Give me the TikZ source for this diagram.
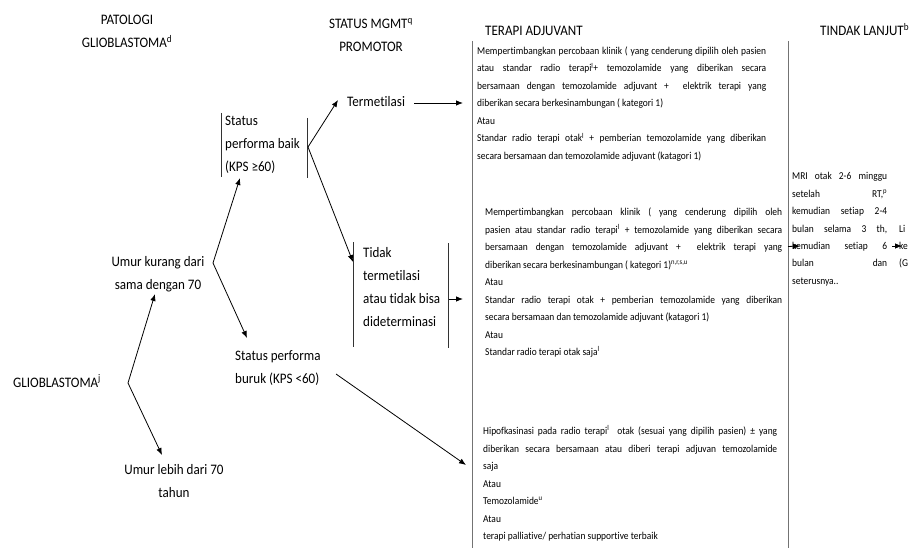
\documentclass[tikz,border=0pt]{standalone}
\usepackage{fontspec}
\setmainfont{Carlito}[FakeStretch=0.9, RawFeature={-liga;-calt;-clig}]
\usepackage{tikz}
\usetikzlibrary{arrows.meta,calc}

\newcommand{\lblfont}{\fontsize{14.5}{23}\selectfont}
\newcommand{\thfont}{\fontsize{10.5}{17.5}\selectfont\tolerance=10000\hbadness=10000}

\tikzset{
  txt/.style={inner sep=0pt, anchor=base west},
  ctxt/.style={inner sep=0pt, anchor=base},
  arr/.style={-{Latex[length=7pt,width=5.5pt]}, line width=0.8pt},
  bracket/.style={line width=0.6pt, black!80},
  colline/.style={line width=0.8pt, black!55},
}

\begin{document}
\begin{tikzpicture}[x=1pt, y=-1pt]
    \useasboundingbox (0,0) rectangle (915,548);

    % headers
    \node[ctxt] (hPat) at (127,25) {\lblfont\parbox[t]{130pt}{\centering PATOLOGI\\ GLIOBLASTOMA\textsuperscript{d}}};
    \node[ctxt] (hMgmt) at (371,29) {\lblfont\parbox[t]{120pt}{\centering STATUS MGMT\textsuperscript{q}\\ PROMOTOR}};
    \node[txt] (hTerapi) at (485,36) {\lblfont TERAPI ADJUVANT};
    \node[txt] (hTindak) at (820,36) {\lblfont TINDAK LANJUT\textsuperscript{b}};

    % decision labels
    \node[txt] (glio) at (13,387) {\lblfont GLIOBLASTOMA\textsuperscript{j}};
    \node[ctxt] (umur) at (158,266) {\lblfont\parbox[t]{110pt}{\centering Umur kurang dari\\ sama dengan 70}};
    \node[ctxt] (lebih) at (174,474) {\lblfont\parbox[t]{120pt}{\centering Umur lebih dari 70\\ tahun}};
    \node[txt] (baik) at (225,126) {\lblfont\parbox[t]{85pt}{Status\\ performa baik\\ (KPS ≥60)}};
    \node[txt] (buruk) at (235,360) {\lblfont\parbox[t]{100pt}{Status performa\\ buruk (KPS <60)}};
    \node[txt] (termet) at (347,107) {\lblfont Termetilasi};
    \node[txt] (tidak) at (363,257) {\lblfont\parbox[t]{85pt}{Tidak\\ termetilasi\\ atau tidak bisa\\ dideterminasi}};

    % brackets round the status labels
    \draw[bracket] ($(baik.base west)+(-4,-13)$) -- ($(baik.base west)+(-4,51)$);
    \draw[bracket] ($(baik.base west)+(82,-8)$) -- ($(baik.base west)+(82,52)$);
    \draw[bracket] ($(tidak.base west)+(-10,-15)$) -- ($(tidak.base west)+(-10,90)$);
    \draw[bracket] ($(tidak.base west)+(85,-14)$) -- ($(tidak.base west)+(85,91)$);

    % therapy column
    \draw[colline] (472,41) -- (472,548);
    \draw[colline] (788,41) -- (788,548);

    \node[txt] (ther1) at (477,54.5) {\parbox[t]{289pt}{\thfont
      Mempertimbangkan percobaan klinik ( yang cenderung dipilih oleh pasien\linebreak
      atau standar radio terapi\textsuperscript{l}+ temozolamide yang diberikan secara\linebreak
      bersamaan dengan temozolamide adjuvant + \ elektrik terapi yang\linebreak
      diberikan secara berkesinambungan ( kategori 1)\\
      Atau\\
      Standar radio terapi otak\textsuperscript{l} + pemberian temozolamide yang diberikan\linebreak
      secara bersamaan dan temozolamide adjuvant (katagori 1)}};

    \node[txt] (ther2) at (485,215.5) {\parbox[t]{297pt}{\thfont
      Mempertimbangkan percobaan klinik ( yang cenderung dipilih oleh\linebreak
      pasien atau standar radio terapi\textsuperscript{l} + temozolamide yang diberikan secara\linebreak
      bersamaan dengan temozolamide adjuvant + \ elektrik terapi yang\linebreak
      diberikan secara berkesinambungan ( kategori 1)\textsuperscript{n,r,s,u}\\
      Atau\\
      Standar radio terapi otak + pemberian temozolamide yang diberikan\linebreak
      secara bersamaan dan temozolamide adjuvant (katagori 1)\\
      Atau\\
      Standar radio terapi otak saja\textsuperscript{l}}};

    \node[txt] (ther3) at (483,434.5) {\parbox[t]{294pt}{\thfont
      Hipofkasinasi pada radio terapi\textsuperscript{l} \ otak (sesuai yang dipilih pasien) ± yang\linebreak
      diberikan secara bersamaan atau diberi terapi adjuvan temozolamide\linebreak
      saja\\
      Atau\\
      Temozolamide\textsuperscript{u}\\
      Atau\\
      terapi palliative/ perhatian supportive terbaik}};

    % follow-up column
    \node[txt] (mri) at (792,179.5) {\parbox[t]{95pt}{\thfont
      MRI otak 2-6 minggu\linebreak
      setelah RT,\textsuperscript{p}\linebreak
      kemudian setiap 2-4\linebreak
      bulan selama 3 th,\linebreak
      kemudian setiap 6\linebreak
      bulan dan\linebreak
      seterusnya..}};
    \node[txt] (nxt) at (899,232) {\parbox[t]{30pt}{\thfont Li\\ ke\\ (G}};

    % forks
    \coordinate (fkGlio) at ($(glio.base west)+(115,-4)$);
    \coordinate (fkUmur) at ($(umur.base)+(55,-3)$);
    \coordinate (fkBaik) at ($(baik.base west)+(83,21)$);

    % arrows
    \draw[arr] (fkGlio) -- ($(umur.base)+(-3,28)$);
    \draw[arr] (fkGlio) -- ($(lebih.base)+(-12,-19)$);
    \draw[arr] (fkUmur) -- ($(baik.base west)+(15,52)$);
    \draw[arr] (fkUmur) -- ($(buruk.base west)+(12,-22)$);
    \draw[arr] (fkBaik) -- ($(termet.base west)+(-9,-7)$);
    \draw[arr] (fkBaik) -- ($(tidak.base west)+(-10,5)$);
    \draw[arr] ($(termet.base east)+(9,-4)$) -- ($(ther1.base west)+(-14,48.5)$);
    \draw[arr] ($(tidak.base west)+(86,42)$) -- ($(ther2.base west)+(-22,83.5)$);
    \draw[arr] ($(buruk.base west)+(101,14)$) -- ($(ther3.base west)+(-17,30.5)$);
    \draw[arr] ($(ther2.base west)+(303,31)$) -- ($(mri.base west)+(8,66.5)$);
    \draw[arr] ($(mri.base west)+(100,66.5)$) -- ($(nxt.base west)+(3,14)$);

\end{tikzpicture}
\end{document}
